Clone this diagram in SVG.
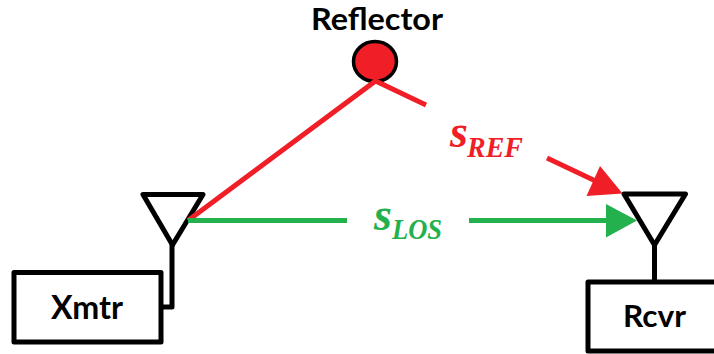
<svg xmlns="http://www.w3.org/2000/svg" width="714" height="354" viewBox="0 0 714 354">
<style>
.k{fill:none;stroke:#000;stroke-width:5;stroke-linejoin:round;stroke-linecap:round}
.w{fill:#fff;stroke:#000;stroke-width:5;stroke-linejoin:round}
.t{font-family:Lato,"Open Sans",sans-serif;font-weight:700;fill:#000;text-anchor:middle}
.m{font-family:"Liberation Serif",serif;font-weight:700;font-style:italic}
.r{fill:none;stroke:#f01f27;stroke-width:5}
.g{fill:none;stroke:#22b14c;stroke-width:5}
</style>
<rect width="714" height="354" fill="#fff"/>
<g id="xmtr">
<path class="k" d="M172 245V307H161"/>
<rect class="w" x="14" y="272.500" width="147" height="69.500"/>
<text class="t" x="87" y="319" font-size="32" textLength="72" lengthAdjust="spacingAndGlyphs">Xmtr</text>
</g>
<g id="xmtr-antenna"><path class="k" d="M143 194.500H203L172.500 245Z"/></g>
<g id="rcvr">
<path class="k" d="M654.500 245V282"/>
<rect class="w" x="588" y="282" width="140" height="69"/>
<text class="t" x="654.500" y="327" font-size="31" textLength="63" lengthAdjust="spacingAndGlyphs">Rcvr</text>
</g>
<g id="rcvr-antenna"><path class="k" d="M624 194H685.500L654.500 245Z"/></g>
<g id="reflector">
<ellipse cx="375" cy="61.500" rx="21.500" ry="20" fill="#f01f27" stroke="#000" stroke-width="3.500"/>
<text class="t" x="377" y="30" font-size="30" textLength="132" lengthAdjust="spacingAndGlyphs">Reflector</text>
</g>
<g id="connectors">
<path class="r" d="M188 220.500L375.500 81L426 105"/>
<path class="r" d="M547 158L604 185"/>
<polygon points="622.500,193.500 600,166 586.500,196" fill="#f01f27"/>
<path class="g" d="M188 220.500H347M469 220.500H610"/>
<polygon points="637,220.500 606,204 606,237.500" fill="#22b14c"/>
</g>
<g id="labels">
<text class="m" x="450" y="147" font-size="46" fill="#f01f27">s</text>
<text class="m" x="467" y="157" font-size="29" fill="#f01f27" textLength="56" lengthAdjust="spacingAndGlyphs">REF</text>
<text class="m" x="374" y="230" font-size="46" fill="#22b14c">s</text>
<text class="m" x="392" y="239" font-size="29" fill="#22b14c" textLength="50" lengthAdjust="spacingAndGlyphs">LOS</text>
</g>
</svg>
